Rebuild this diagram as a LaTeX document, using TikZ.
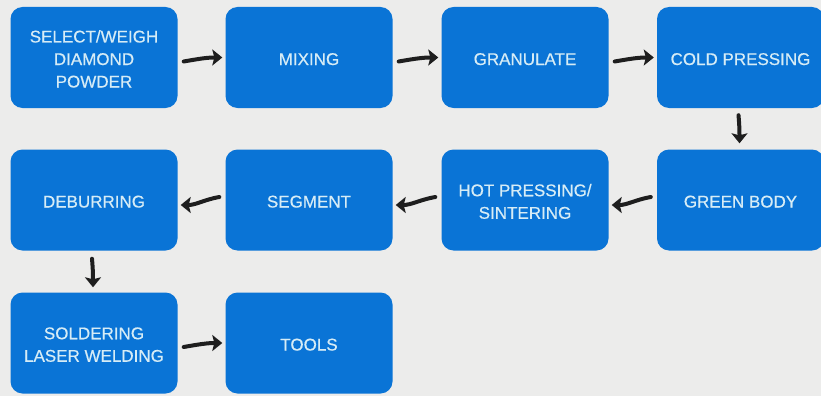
\documentclass[tikz,border=0pt]{standalone}
\usepackage{fontspec}
\setmainfont{Liberation Sans}
\newfontfamily\boxfont{Liberation Sans}[FakeBold=0.5]
\usetikzlibrary{arrows.meta}
\definecolor{boxblue}{RGB}{10,116,214}
\definecolor{boxtext}{RGB}{214,236,246}
\definecolor{bgc}{RGB}{236,236,235}
\definecolor{arrowc}{RGB}{30,30,30}
\newcommand\lowtxt[1]{\raisebox{-3pt}[\height][\depth]{\begin{tabular}{@{}c@{}}#1\end{tabular}}}
\tikzset{
  stepbox/.style={rectangle, fill=boxblue, draw=none, rounded corners=12pt,
    minimum width=167pt, minimum height=101pt, align=center,
    text=boxtext, font=\boxfont\fontsize{17}{22.5}\selectfont},
  arr/.style={draw=arrowc, line width=4pt, line cap=round,
    -{Stealth[length=10pt,width=16pt,inset=2pt]}}
}
\begin{document}
\begin{tikzpicture}[x=1pt,y=-1pt]
\useasboundingbox (0,0) rectangle (821,396);
\fill[bgc] (0,0) rectangle (821,396);
% row 1
\node[stepbox] (sel) at (94,57.5) {\lowtxt{SELECT/WEIGH\\DIAMOND\\POWDER}};
\node[stepbox] (mix) at (309,57.5) {\lowtxt{MIXING}};
\node[stepbox] (gran) at (525,57.5) {\lowtxt{GRANULATE}};
\node[stepbox] (cold) at (740.5,57.5) {\lowtxt{COLD PRESSING}};
% row 2
\node[stepbox] (deb) at (94,200) {\lowtxt{DEBURRING}};
\node[stepbox] (seg) at (309,200) {\lowtxt{SEGMENT}};
\node[stepbox] (hot) at (525,200) {\lowtxt{HOT PRESSING/\\SINTERING}};
\node[stepbox] (green) at (740.5,200) {\lowtxt{GREEN BODY}};
% row 3
\node[stepbox] (sold) at (94,343) {\lowtxt{SOLDERING\\LASER WELDING}};
\node[stepbox] (tools) at (309,343) {\lowtxt{TOOLS}};
% arrows
\draw[arr] ([xshift=6pt,yshift=-4pt]sel.east) to[out=10,in=180] ([xshift=-3pt,yshift=0pt]mix.west);
\draw[arr] ([xshift=6pt,yshift=-4pt]mix.east) to[out=10,in=180] ([xshift=-3pt,yshift=0pt]gran.west);
\draw[arr] ([xshift=6pt,yshift=-4pt]gran.east) to[out=10,in=180] ([xshift=-3pt,yshift=0pt]cold.west);
\draw[arr] ([xshift=-2pt,yshift=-7pt]cold.south) to[out=-85,in=90] ([xshift=-1pt,yshift=6pt]green.north);
\draw[arr] ([xshift=-6pt,yshift=3pt]green.west) to[out=190,in=0] ([xshift=3pt,yshift=-5pt]hot.east);
\draw[arr] ([xshift=-6pt,yshift=3pt]hot.west) to[out=190,in=0] ([xshift=3pt,yshift=-5pt]seg.east);
\draw[arr] ([xshift=-6pt,yshift=3pt]seg.west) to[out=190,in=0] ([xshift=3pt,yshift=-5pt]deb.east);
\draw[arr] ([xshift=-2pt,yshift=-8pt]deb.south) to[out=-85,in=90] ([xshift=-1pt,yshift=5pt]sold.north);
\draw[arr] ([xshift=6pt,yshift=-4pt]sold.east) to[out=10,in=180] ([xshift=-3pt,yshift=0pt]tools.west);
\end{tikzpicture}
\end{document}
